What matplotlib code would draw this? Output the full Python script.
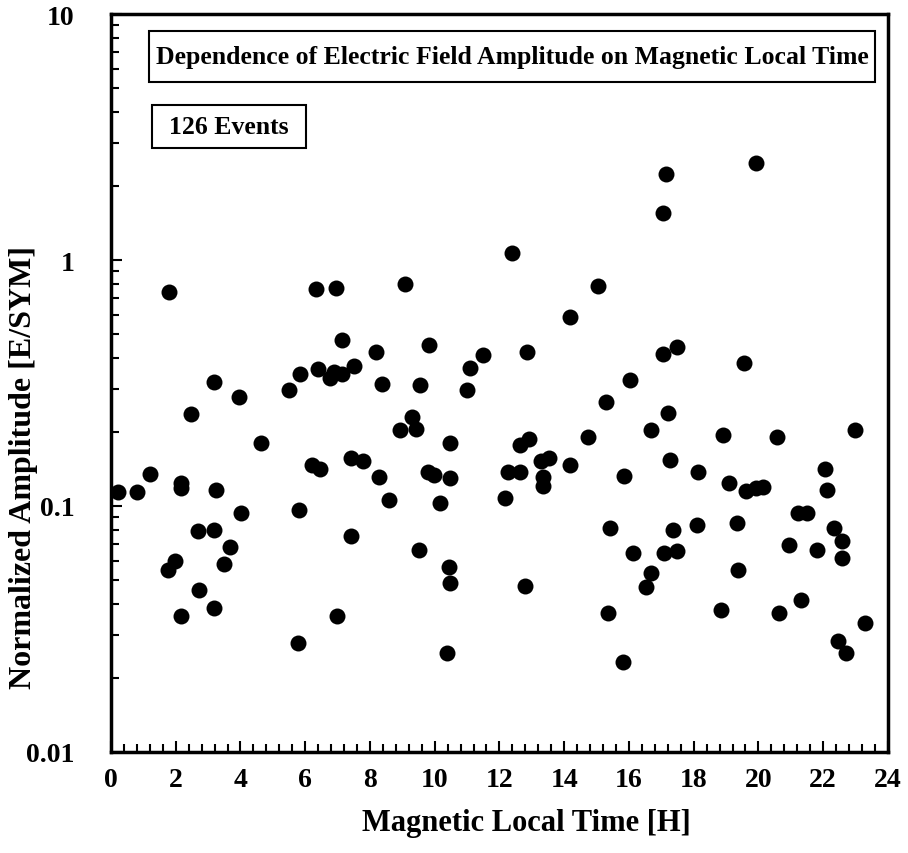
import matplotlib.pyplot as plt
import numpy as np
from matplotlib.patches import Rectangle
from matplotlib.ticker import MultipleLocator, LogLocator, FixedLocator, NullFormatter

plt.rcParams['font.family'] = ['Liberation Serif', 'DejaVu Serif']
plt.rcParams['font.weight'] = 'bold'

# magnetic local time [h] of each event
mlt = [1.80, 3.19, 3.96, 5.50, 5.85, 2.47, 4.62, 0.23, 0.79, 1.20,
       2.17, 2.17, 3.24, 4.02, 5.82,
       6.33, 6.94, 9.09, 7.14, 8.18, 9.81, 11.49, 11.10, 11.00, 6.38,
       6.76, 6.90, 7.14, 7.50, 8.38, 9.55, 9.31, 8.94, 9.41, 10.48,
       6.22, 6.46, 7.40, 7.78, 8.28, 9.80, 9.98, 10.48, 8.58, 10.17,
       12.39, 15.05, 14.18, 12.84, 17.04, 17.49, 16.02, 15.30, 17.20, 16.68,
       14.74, 12.91, 12.65, 17.26, 13.27, 13.53, 12.26, 12.65, 14.18, 13.36,
       13.36, 15.86, 12.18,
       19.92, 17.15, 17.06,
       19.56, 18.89, 20.58, 22.99, 18.13, 22.06, 19.10, 19.61, 19.94, 20.15,
       22.13, 21.23, 21.51,
       2.68, 3.19, 7.41, 3.67, 9.51, 1.97, 1.75, 3.50, 10.43, 10.48,
       2.73, 3.19, 2.17, 6.99, 5.77, 10.38,
       15.41, 16.11, 17.35, 18.09, 19.35, 17.09, 17.47, 16.69, 16.53, 19.36,
       20.95, 21.82, 22.32, 22.59, 22.59, 12.80, 15.36, 18.84, 20.63, 21.30,
       23.30, 22.47, 22.69, 15.82]

# normalized amplitude E/SYM
amp = [0.739, 0.318, 0.277, 0.295, 0.345, 0.237, 0.180, 0.114, 0.114, 0.135,
       0.124, 0.118, 0.116, 0.094, 0.096,
       0.762, 0.772, 0.799, 0.472, 0.422, 0.450, 0.411, 0.363, 0.295, 0.362,
       0.330, 0.350, 0.345, 0.372, 0.314, 0.310, 0.229, 0.203, 0.206, 0.180,
       0.147, 0.142, 0.156, 0.153, 0.131, 0.138, 0.134, 0.130, 0.106, 0.103,
       1.07, 0.787, 0.585, 0.422, 0.415, 0.441, 0.325, 0.264, 0.238, 0.204,
       0.191, 0.188, 0.177, 0.154, 0.153, 0.157, 0.138, 0.138, 0.147, 0.131,
       0.121, 0.132, 0.108,
       2.48, 2.23, 1.56,
       0.383, 0.194, 0.191, 0.204, 0.138, 0.141, 0.124, 0.115, 0.118, 0.120,
       0.116, 0.094, 0.094,
       0.0789, 0.0798, 0.0755, 0.0684, 0.0664, 0.0597, 0.0551, 0.0579, 0.0566, 0.0486,
       0.0457, 0.0385, 0.0356, 0.0356, 0.0278, 0.0253,
       0.0811, 0.0642, 0.0798, 0.0837, 0.0851, 0.0642, 0.0655, 0.0535, 0.0470, 0.0551,
       0.0697, 0.0664, 0.0811, 0.0719, 0.0612, 0.0472, 0.0368, 0.0379, 0.0368, 0.0416,
       0.0334, 0.0282, 0.0252, 0.0233]

xticks = np.arange(0, 25, 2)
yticks = [0.01, 0.1, 1, 10]
ylabels = ['0.01', '0.1', '1', '10']

fig = plt.figure(figsize=(9.08, 8.54), dpi=100, facecolor='w')
ax = fig.add_axes([0.1222, 0.1183, 0.8557, 0.8641])

ax.plot(mlt, amp, 'o', color='black', markersize=11.5, markeredgewidth=0)

ax.set_yscale('log')
ax.set_xlim(0, 24)
ax.set_ylim(0.01, 10)

ax.set_xticks(xticks)
ax.xaxis.set_minor_locator(MultipleLocator(0.4))
ax.yaxis.set_major_locator(FixedLocator(yticks))
ax.set_yticklabels(ylabels)
ax.yaxis.set_minor_locator(LogLocator(base=10, subs=np.arange(2, 10)))
ax.yaxis.set_minor_formatter(NullFormatter())

ax.tick_params(which='both', direction='in', top=False, right=False, width=1.5,
               labelsize=20)
ax.tick_params(axis='x', which='major', length=8, pad=11)
ax.tick_params(axis='x', which='minor', length=6)
ax.tick_params(axis='y', which='major', length=8, pad=26)
ax.tick_params(axis='y', which='minor', length=6)

for s in ax.spines.values():
    s.set_linewidth(2.5)

ax.set_xlabel('Magnetic Local Time [H]', fontsize=22, fontweight='bold')
ax.xaxis.set_label_coords(0.535, -0.076)
ax.set_ylabel('Normalized Amplitude [E/SYM]', fontsize=23, fontweight='bold')
ax.yaxis.set_label_coords(-0.094, 0.387)

# text boxes
ax.add_patch(Rectangle((0.0489, 0.9078), 0.9344, 0.0691, transform=ax.transAxes,
                       fill=False, lw=1.5, ec='black'))
ax.text(0.516, 0.9424, 'Dependence of Electric Field Amplitude on Magnetic Local Time',
        transform=ax.transAxes, ha='center', va='center', fontsize=18.5,
        fontweight='bold')
ax.add_patch(Rectangle((0.0528, 0.8184), 0.1982, 0.0583, transform=ax.transAxes,
                       fill=False, lw=1.5, ec='black'))
ax.text(0.152, 0.8476, '126 Events', transform=ax.transAxes, ha='center',
        va='center', fontsize=18.5, fontweight='bold')

fig.savefig('out.png', dpi=100)
